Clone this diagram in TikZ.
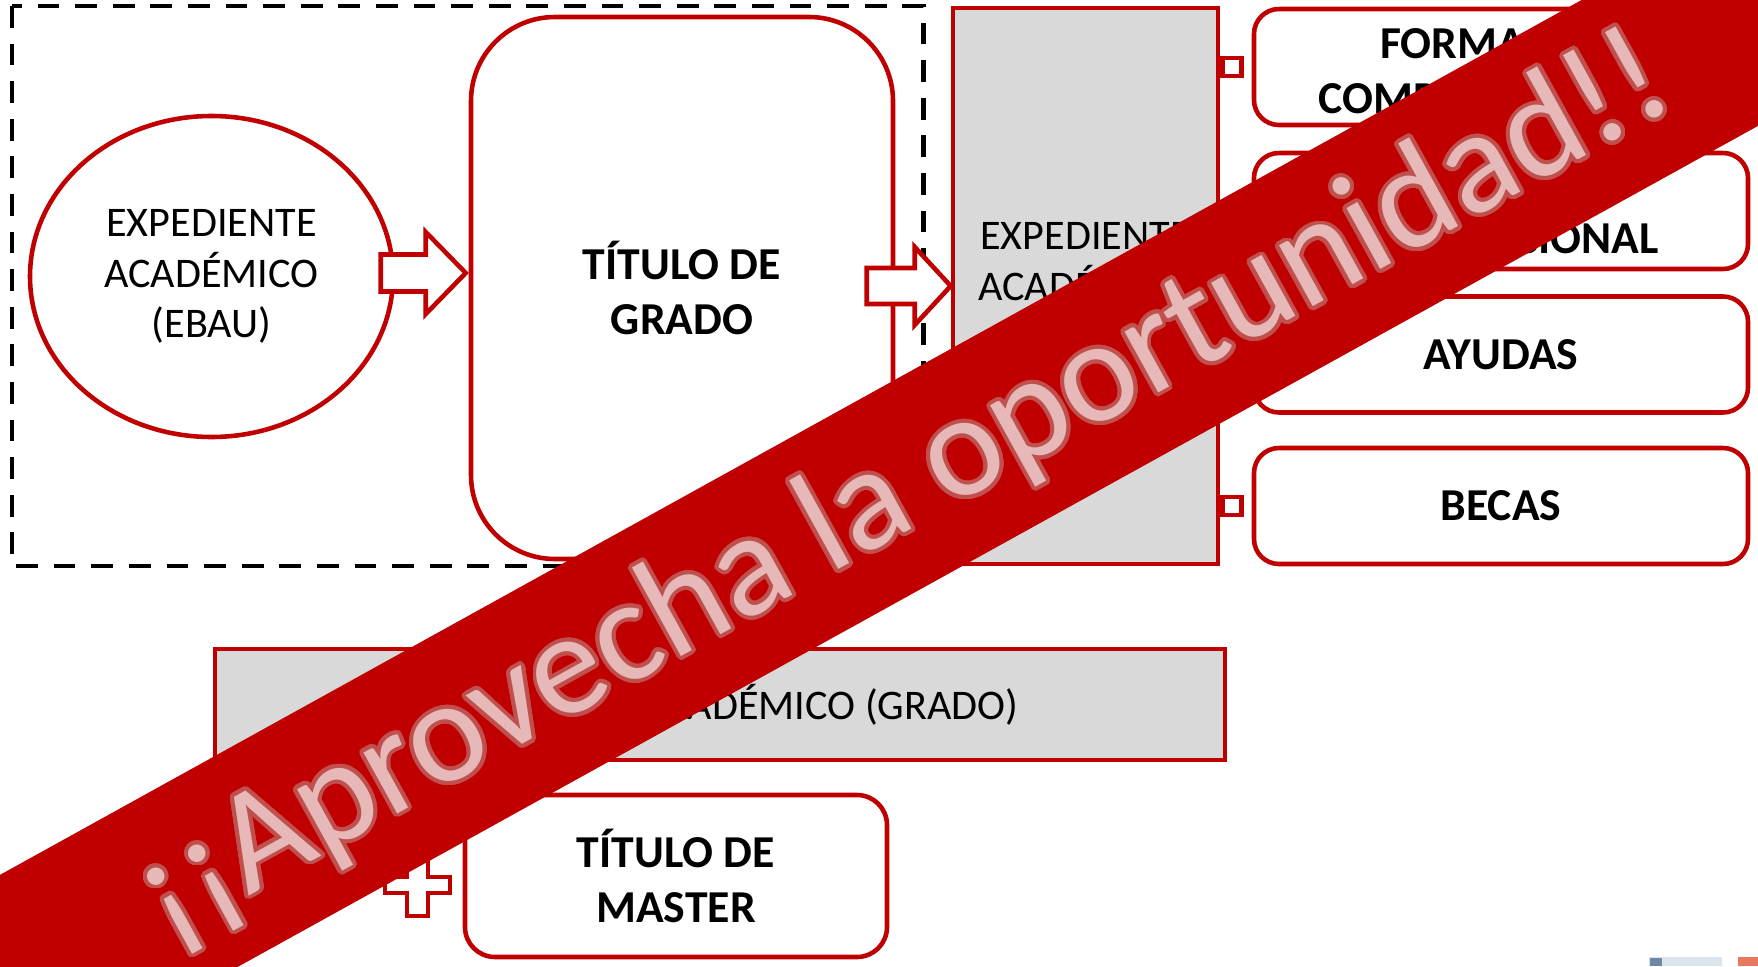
\documentclass[tikz,border=0pt]{standalone}
\usepackage{fontspec}
\setmainfont{Carlito}
\usepackage{xcolor}
\usepackage{contour}
\usetikzlibrary{shapes.geometric,calc}

\definecolor{rojo}{RGB}{192,0,0}
\definecolor{grisclaro}{RGB}{217,217,217}
\definecolor{rosa}{RGB}{230,184,183}
\definecolor{rosaborde}{RGB}{192,80,77}
\definecolor{azulgris}{RGB}{220,228,238}
\definecolor{azuloscuro}{RGB}{110,135,165}
\definecolor{naranja}{RGB}{232,121,95}

\newcommand{\textoreg}{\fontsize{12}{14.3}\selectfont}
\newcommand{\textoneg}{\fontsize{13}{15.9}\selectfont\bfseries}
\contourlength{1.1pt}
\contournumber{32}

\begin{document}
\begin{tikzpicture}[
    caja/.style={draw=rojo, line width=1.3pt, fill=white, rounded corners=0.25cm,
        minimum width=4.94cm, minimum height=1.16cm, inner sep=0pt, align=center, font=\textoneg},
    bloque/.style={draw=rojo, line width=1.3pt, fill=grisclaro, inner sep=0pt},
    flecha/.style={draw=rojo, line width=1.3pt, fill=white, line join=miter},
    conector/.style={draw=rojo, line width=1.3pt, fill=white, inner sep=0pt,
        minimum width=0.19cm, minimum height=0.18cm}
]

    % marco de la pagina
    \useasboundingbox (0,0) rectangle (17.58,9.66);
    \clip (0,0) rectangle (17.58,9.66);

    % recuadro discontinuo
    \draw[black, line width=1.3pt, dash pattern=on 6.2pt off 4.5pt] (0.12,9.60) rectangle (9.235,4.00);

    % expediente de bachillerato
    \node[draw=rojo, line width=1.3pt, fill=white, ellipse, minimum width=3.63cm, minimum height=3.21cm,
        inner sep=0pt, align=center, font=\textoreg] (ebau) at (2.115,6.895) {EXPEDIENTE\\ACADÉMICO\\(EBAU)};

    % titulo de grado
    \node[caja, rounded corners=0.84cm, minimum width=4.22cm, minimum height=5.42cm] (grado) at (6.82,6.78) {TÍTULO DE\\GRADO};

    % expediente del grado
    \node[bloque, minimum width=2.65cm, minimum height=5.56cm] (gris) at (10.855,6.80) {};
    \node[align=center, font=\textoreg] (gristxt) at ($(gris.center)+(0,0.245)$) {EXPEDIENTE\\ACADÉMICO};

    % flechas
    \draw[flecha] ([xshift=-0.03cm,yshift=0.15cm]grado.west) -- ++(-0.40,0.41) -- ++(0,-0.225) -- ++(-0.45,0)
        -- ++(0,-0.37) -- ++(0.45,0) -- ++(0,-0.225) -- cycle;
    \draw[flecha] (gris.west) -- ++(-0.36,0.39) -- ++(0,-0.21) -- ++(-0.48,0)
        -- ++(0,-0.36) -- ++(0.48,0) -- ++(0,-0.21) -- cycle;

    % oportunidades
    \node[caja] (form) at (15.01,8.99) {FORMACIÓN\\COMPLEMENTARIA};
    \node[caja] (movil) at (15.01,7.55) {MOVILIDAD\\INTERNACIONAL};
    \node[caja] (ayudas) at (15.01,6.115) {AYUDAS};
    \node[caja] (becas) at (15.01,4.60) {BECAS};

    \node[conector, anchor=west] (c1) at (gris.east |- form.west) {};
    \node[conector, anchor=west] (c4) at (gris.east |- becas.west) {};

    % expediente y master
    \node[bloque, minimum width=10.10cm, minimum height=1.11cm, font=\textoreg] (barra) at (7.20,2.615) {EXPEDIENTE ACADÉMICO (GRADO)};
    \node[caja, rounded corners=0.30cm, minimum width=4.22cm, minimum height=1.62cm] (master) at (6.76,0.90) {TÍTULO DE\\MASTER};

    % signo mas
    \draw[flecha] (4.07,1.12) -- (4.28,1.12) -- (4.28,0.89) -- (4.50,0.89) -- (4.50,0.73) -- (4.28,0.73)
        -- (4.28,0.50) -- (4.07,0.50) -- (4.07,0.73) -- (3.85,0.73) -- (3.85,0.89) -- (4.07,0.89) -- cycle;

    % logo (cortado)
    \fill[azulgris] (16.49,0) rectangle (17.22,0.09);
    \fill[azuloscuro] (16.50,0) rectangle (16.62,0.08);
    \fill[naranja] (17.38,0) rectangle (17.58,0.09);

    % banda
    \begin{scope}[shift={(9.05,4.80)}, rotate=28.95]
        \fill[rojo] (-12,-0.978) rectangle (12,0.978);
        \node[transform shape, text=rosa, inner sep=0pt, font=\fontsize{41.5}{41.5}\selectfont] (lema) at (-0.03,-0.04) {\contour{rosaborde}{¡¡Aprovecha la oportunidad!!}};
    \end{scope}

\end{tikzpicture}
\end{document}
